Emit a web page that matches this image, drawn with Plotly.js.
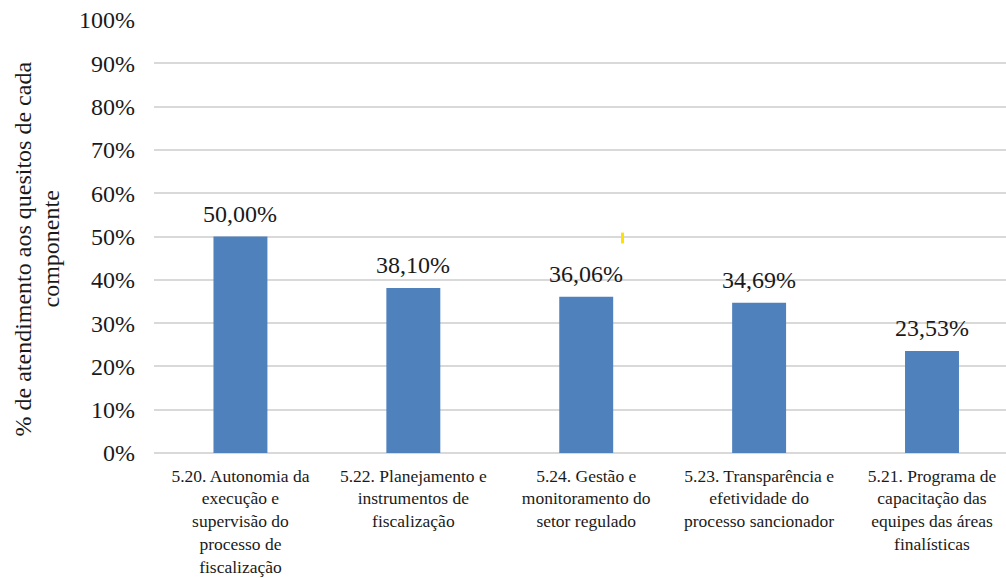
<!DOCTYPE html>
<html>
<head>
<meta charset="utf-8">
<script src="https://cdn.plot.ly/plotly-3.0.1.min.js"></script>
</head>
<body style="margin:0;background:#ffffff">
<div id="chart" style="width:1006px;height:578px"></div>
<script>
// Components, in the order shown on the axis
const categories = [
  '5.20. Autonomia da<br>execução e<br>supervisão do<br>processo de<br>fiscalização',
  '5.22. Planejamento e<br>instrumentos de<br>fiscalização',
  '5.24. Gestão e<br>monitoramento do<br>setor regulado',
  '5.23. Transparência e<br>efetividade do<br>processo sancionador',
  '5.21. Programa de<br>capacitação das<br>equipes das áreas<br>finalísticas'
];

// Share of requirements met per component (%)
const values = [50.00, 38.10, 36.06, 34.69, 23.53];

// Y axis ticks
const yTicks = [0, 10, 20, 30, 40, 50, 60, 70, 80, 90, 100];
const yTickLabels = ['0%', '10%', '20%', '30%', '40%', '50%', '60%', '70%', '80%', '90%', '100%'];

const SERIF = 'Liberation Serif';
const INK = '#1a1a1a';
const BAR_COLOR = '#4f81bd';
const GRID_COLOR = '#d9d9d9';

const fmt = v => v.toFixed(2).replace('.', ',') + '%';

// Value labels above each bar
const valueLabels = values.map((v, i) => ({
  x: categories[i],
  y: v,
  xref: 'x',
  yref: 'y',
  text: fmt(v),
  showarrow: false,
  yanchor: 'bottom',
  yshift: 8,
  font: { family: SERIF, size: 24, color: INK }
}));

// Two-line axis title, one annotation per line
const axisTitle = [
  { text: '% de atendimento aos quesitos de cada', shift: -131 },
  { text: 'componente', shift: -103 }
].map(t => ({
  x: 0,
  y: 0.47,
  xref: 'paper',
  yref: 'paper',
  xshift: t.shift,
  text: t.text,
  textangle: -90,
  showarrow: false,
  xanchor: 'center',
  yanchor: 'middle',
  font: { family: SERIF, size: 24, color: INK }
}));

Plotly.newPlot('chart', [{
  type: 'bar',
  x: categories,
  y: values,
  marker: { color: BAR_COLOR },
  hoverinfo: 'skip'
}], {
  width: 1006,
  height: 578,
  margin: { l: 154, r: 0, t: 20, b: 125, pad: 0 },
  paper_bgcolor: '#ffffff',
  plot_bgcolor: '#ffffff',
  showlegend: false,
  bargap: 0.688,
  font: { family: SERIF, color: INK },
  xaxis: {
    type: 'category',
    range: [-0.5, 4.428],
    showgrid: false,
    showline: false,
    zeroline: false,
    ticks: '',
    tickangle: 0,
    ticklabelstandoff: 10,
    tickfont: { family: SERIF, size: 17.5, color: INK }
  },
  yaxis: {
    range: [0, 100],
    tickvals: yTicks,
    ticktext: yTickLabels,
    showgrid: true,
    gridcolor: GRID_COLOR,
    gridwidth: 1.5,
    zeroline: true,
    zerolinecolor: GRID_COLOR,
    zerolinewidth: 1.5,
    showline: false,
    ticks: '',
    ticklabelstandoff: 18,
    tickfont: { family: SERIF, size: 24, color: INK }
  },
  annotations: valueLabels.concat(axisTitle),
  shapes: [
    // small yellow marker beside the third component
    {
      type: 'line',
      xref: 'x', yref: 'y',
      x0: 2.21, x1: 2.21, y0: 48.4, y1: 50.9,
      line: { color: '#ffe100', width: 3 }
    }
  ]
}, { displayModeBar: false });
</script>
</body>
</html>
